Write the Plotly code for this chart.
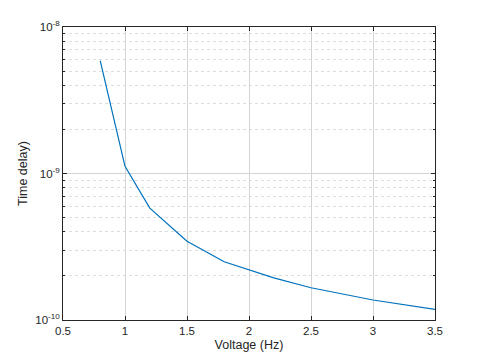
import plotly.graph_objects as go

voltage = [0.8, 1.0, 1.2, 1.5, 1.8, 2.2, 2.5, 3.0, 3.5]
time_delay = [5.9e-9, 1.12e-9, 5.8e-10, 3.45e-10, 2.5e-10, 1.94e-10, 1.66e-10, 1.37e-10, 1.18e-10]

x_ticks = [0.5, 1, 1.5, 2, 2.5, 3, 3.5]
x_ticktext = ["0.5", "1", "1.5", "2", "2.5", "3", "3.5"]
y_ticks = [1e-10, 1e-9, 1e-8]
y_ticktext = ["10<sup>-10</sup>", "10<sup>-9</sup>", "10<sup>-8</sup>"]
y_minor = [m * d for d in [1e-10, 1e-9] for m in range(2, 10)]

fig = go.Figure()
fig.add_trace(go.Scatter(x=voltage, y=time_delay, mode="lines",
                         line=dict(color="#0072BD", width=1.2), showlegend=False))

axis_color = "#262626"
fig.update_layout(
    width=472, height=352,
    margin=dict(l=55, r=45, t=19, b=40, autoexpand=False),
    paper_bgcolor="white", plot_bgcolor="white",
    font=dict(family="Liberation Sans, Arial, sans-serif", size=11.5, color=axis_color),
    xaxis=dict(
        range=[0.5, 3.5], tickvals=x_ticks, ticktext=x_ticktext,
        ticks="inside", ticklen=4, tickcolor=axis_color,
        showline=True, linecolor=axis_color, linewidth=1, mirror="ticks",
        showgrid=True, gridcolor="#d4d4d4", gridwidth=1, zeroline=False,
        automargin=False,
        title=dict(text="Voltage (Hz)", font=dict(size=12.5), standoff=4),
    ),
    yaxis=dict(
        type="log", range=[-10, -8], tickvals=y_ticks, ticktext=y_ticktext,
        ticks="inside", ticklen=4, tickcolor=axis_color,
        showline=True, linecolor=axis_color, linewidth=1, mirror="ticks",
        showgrid=True, gridcolor="#d4d4d4", gridwidth=1, zeroline=False,
        automargin=False,
        minor=dict(tickvals=y_minor, ticks="inside", ticklen=2, tickcolor=axis_color,
                   showgrid=True, gridcolor="#dcdcdc", griddash="dot", gridwidth=1),
        title=dict(text="Time delay)", font=dict(size=12.5), standoff=4),
    ),
)

fig.write_html("out.html")
